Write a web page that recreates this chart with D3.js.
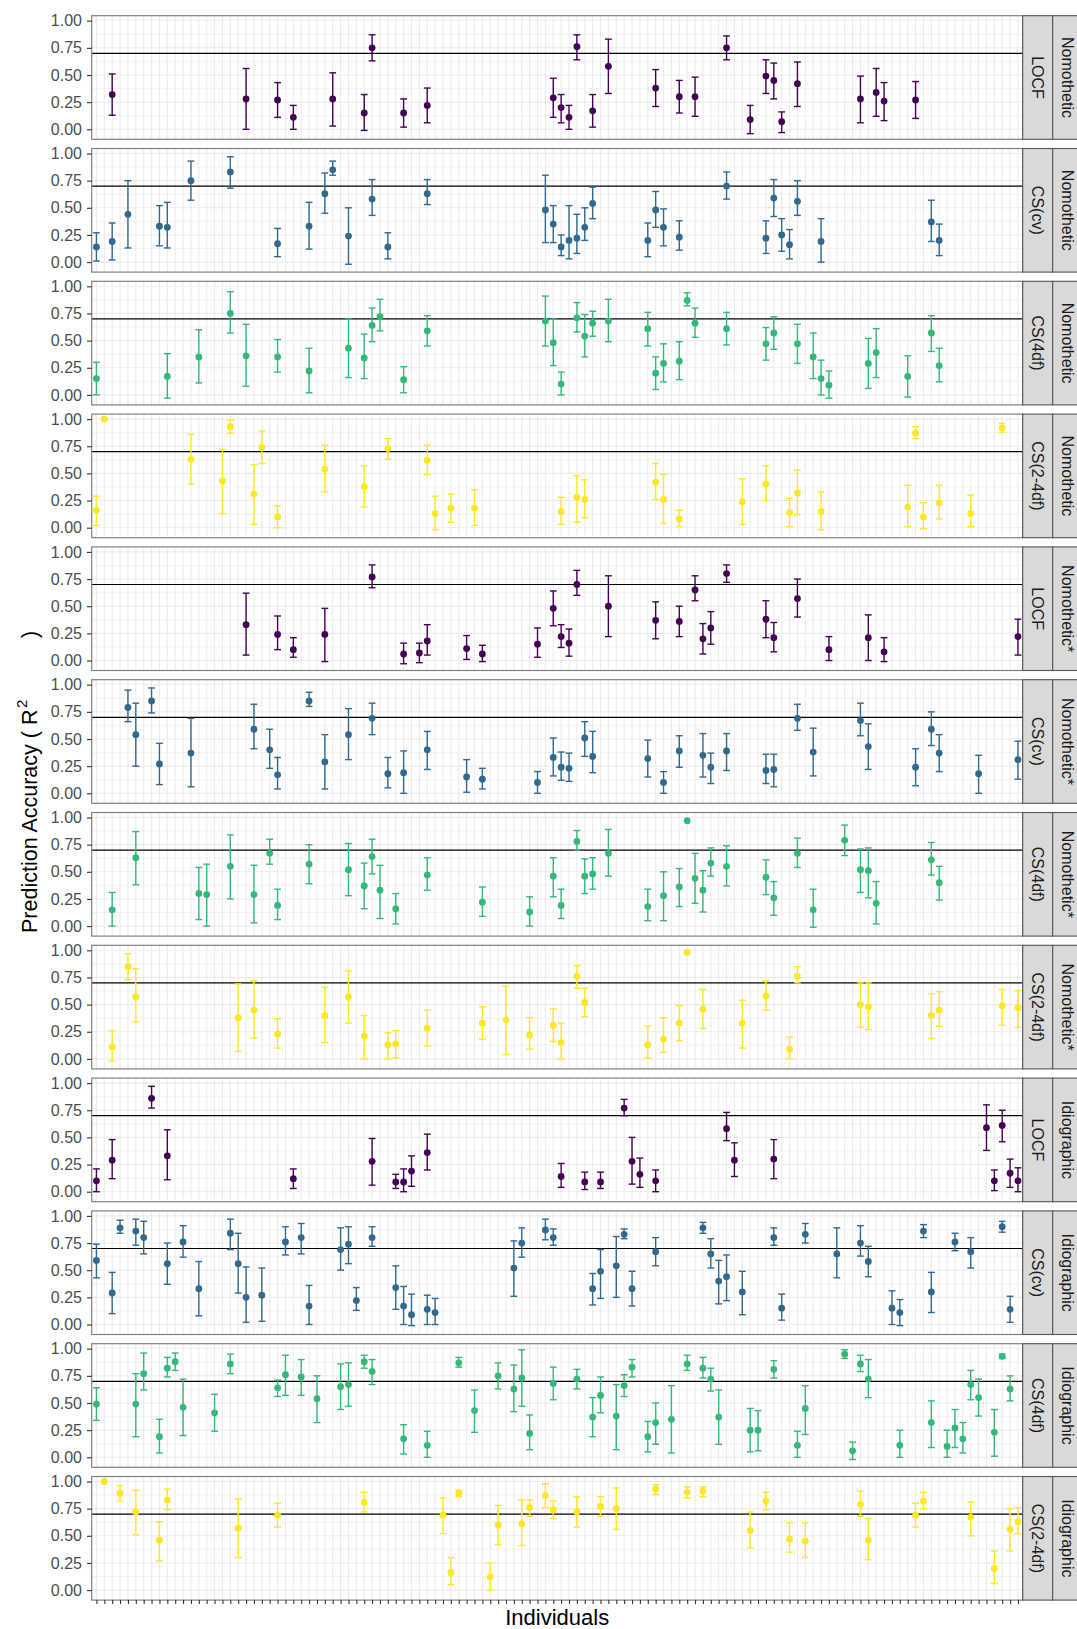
<!DOCTYPE html>
<html>
<head>
<meta charset="utf-8">
<script src="https://cdn.jsdelivr.net/npm/d3@7"></script>
<style>
  body { margin: 0; background: #fff; }
  svg { display: block; font-family: "Liberation Sans", Arial, sans-serif; }
</style>
</head>
<body>
<svg id="chart"></svg>
<script>
// x categories: individuals (axis shows ticks only)
const nIndividuals = 118
const individuals = d3.range(1, nIndividuals + 1)

const models = ['LOCF', 'CS(cv)', 'CS(4df)', 'CS(2-4df)']
const approaches = ['Nomothetic', 'Nomothetic*', 'Idiographic']
const modelColors = ['#440154', '#31688E', '#35B779', '#FDE725']
const yTicks = [0, 0.25, 0.5, 0.75, 1]
const threshold = 0.7

// [individual, estimate, lower, upper]
const nomoLOCF = [
  [3,.32,.13,.51],[20,.28,0,.56],[24,.27,.11,.43],[26,.11,.0,.22],[31,.28,.03,.52],
  [35,.15,-.01,.32],[36,.75,.63,.87],[40,.15,.02,.28],[43,.22,.06,.38],[59,.29,.11,.47],
  [60,.20,.06,.32],[61,.11,0,.22],[62,.76,.64,.87],[64,.17,.02,.32],[66,.58,.33,.83],
  [72,.38,.21,.55],[75,.30,.15,.45],[77,.30,.12,.48],[81,.75,.64,.86],[84,.09,-.04,.22],
  [86,.49,.33,.64],[87,.45,.28,.61],[88,.07,-.03,.16],[90,.42,.21,.62],[98,.28,.06,.49],
  [100,.34,.12,.56],[101,.26,.08,.43],[105,.27,.10,.44]
]
const nomoCV = [
  [1,.14,.01,.27],[3,.19,.02,.36],[5,.44,.13,.75],[9,.33,.15,.52],[10,.32,.13,.55],
  [13,.75,.57,.93],[18,.83,.68,.97],[24,.17,.05,.31],[28,.33,.12,.55],[30,.63,.45,.82],
  [31,.85,.80,.93],[33,.24,-.02,.50],[36,.58,.43,.76],[38,.14,.03,.27],[43,.63,.53,.76],
  [58,.48,.18,.80],[59,.35,.18,.52],[60,.14,.06,.25],[61,.20,.03,.52],[62,.22,.08,.44],
  [63,.32,.20,.50],[64,.54,.40,.69],[71,.20,.05,.36],[72,.48,.32,.65],[73,.32,.15,.49],
  [75,.23,.11,.38],[81,.70,.58,.83],[86,.22,.08,.38],[87,.59,.42,.76],[88,.25,.10,.40],
  [89,.16,.03,.30],[90,.56,.43,.75],[93,.19,0,.40],[107,.37,.19,.57],[108,.20,.06,.35]
]
const nomo4df = [
  [1,.15,0,.30],[10,.17,-.03,.38],[14,.35,.11,.60],[18,.75,.57,.95],[20,.36,.08,.65],
  [24,.35,.21,.51],[28,.22,.02,.43],[33,.43,.16,.70],[35,.34,.15,.56],[36,.64,.49,.80],
  [37,.72,.59,.88],[40,.14,.02,.26],[43,.59,.45,.73],[58,.68,.45,.91],[59,.48,.27,.70],
  [60,.10,0,.21],[62,.71,.58,.85],[63,.54,.35,.74],[64,.66,.54,.77],[66,.68,.49,.88],
  [71,.61,.45,.76],[72,.20,.05,.35],[73,.29,.12,.47],[75,.31,.14,.49],[76,.87,.82,.94],
  [77,.66,.53,.80],[81,.61,.46,.76],[86,.47,.32,.62],[87,.57,.42,.72],[90,.47,.29,.65],
  [92,.35,.15,.57],[93,.15,0,.32],[94,.09,-.03,.22],[99,.29,.06,.52],[100,.39,.16,.61],
  [104,.17,-.02,.36],[107,.57,.40,.73],[108,.27,.12,.43]
]
const nomo24df = [
  [1,.16,.02,.29],[2,1,1,1],[13,.63,.40,.86],[17,.43,.13,.72],[18,.93,.87,.99],
  [21,.31,.03,.58],[22,.74,.59,.89],[24,.10,0,.20],[30,.54,.33,.76],[35,.38,.19,.57],
  [38,.73,.63,.82],[43,.62,.49,.76],[44,.13,-.02,.29],[46,.18,.05,.31],[49,.18,.02,.35],
  [60,.15,.03,.28],[62,.28,.05,.48],[63,.26,.09,.44],[72,.42,.26,.59],[73,.26,.04,.49],
  [75,.08,.01,.16],[83,.24,.03,.45],[86,.40,.25,.57],[89,.14,.01,.27],[90,.32,.12,.53],
  [93,.15,-.02,.33],[104,.19,.01,.39],[105,.87,.82,.93],[106,.10,-.01,.23],[108,.23,.08,.39],
  [112,.13,.01,.30],[116,.92,.88,.96]
]
const nomoStarLOCF = [
  [20,.33,.05,.62],[24,.24,.10,.41],[26,.10,.03,.21],[30,.24,-.01,.48],[36,.77,.67,.88],
  [40,.06,-.03,.16],[42,.07,-.02,.16],[43,.18,.05,.33],[48,.11,.01,.23],[50,.06,-.01,.14],
  [57,.15,.03,.30],[59,.48,.32,.64],[60,.22,.12,.33],[61,.16,.04,.29],[62,.70,.60,.83],
  [66,.50,.22,.78],[72,.37,.20,.54],[75,.36,.22,.50],[77,.65,.55,.78],[78,.20,.06,.34],
  [79,.30,.15,.45],[81,.80,.72,.88],[86,.38,.21,.55],[87,.21,.08,.35],[90,.57,.40,.75],
  [94,.10,0,.22],[99,.21,0,.42],[101,.08,-.01,.21],[118,.22,.05,.38]
]
const nomoStarCV = [
  [5,.79,.66,.95],[6,.54,.25,.83],[8,.85,.74,.97],[9,.27,.08,.46],[13,.37,.06,.69],
  [21,.59,.41,.82],[23,.40,.23,.59],[24,.17,.04,.33],[28,.85,.80,.93],[30,.29,.04,.54],
  [33,.54,.31,.78],[36,.69,.54,.83],[38,.18,.05,.33],[40,.19,0,.39],[43,.40,.22,.57],
  [48,.15,.01,.31],[50,.13,.04,.23],[57,.10,0,.20],[59,.33,.16,.51],[60,.24,.12,.38],
  [61,.23,.11,.37],[63,.51,.34,.66],[64,.34,.19,.57],[71,.32,.15,.49],[73,.10,0,.20],
  [75,.39,.24,.53],[78,.35,.15,.55],[79,.24,.09,.37],[81,.39,.21,.55],[86,.21,.09,.36],
  [87,.22,.06,.36],[90,.69,.58,.82],[92,.38,.16,.60],[98,.67,.53,.83],[99,.43,.22,.64],
  [105,.24,.07,.41],[107,.59,.44,.75],[108,.37,.20,.54],[113,.18,0,.35],[118,.31,.13,.48]
]
const nomoStar4df = [
  [3,.15,0,.31],[6,.63,.38,.87],[14,.30,.06,.54],[15,.29,0,.57],[18,.55,.25,.84],
  [21,.29,.03,.56],[23,.67,.57,.80],[24,.19,.06,.34],[28,.57,.39,.75],[33,.52,.28,.76],
  [35,.37,.16,.58],[36,.64,.48,.80],[37,.33,.07,.56],[39,.16,.02,.30],[43,.47,.33,.63],
  [50,.22,.09,.36],[56,.13,0,.27],[59,.46,.27,.63],[60,.19,.07,.34],[62,.78,.70,.88],
  [63,.46,.30,.62],[64,.48,.34,.63],[66,.67,.46,.89],[71,.18,.05,.34],[73,.28,.05,.50],
  [75,.36,.18,.53],[76,.97,.97,.97],[77,.44,.21,.67],[78,.33,.13,.51],[79,.58,.46,.72],
  [81,.55,.37,.74],[86,.45,.29,.61],[87,.26,.10,.41],[90,.67,.54,.81],[92,.15,-.01,.34],
  [96,.79,.65,.93],[98,.52,.31,.71],[99,.51,.26,.72],[100,.21,.02,.41],[107,.61,.47,.77],
  [108,.40,.24,.55]
]
const nomoStar24df = [
  [3,.11,-.02,.26],[5,.85,.73,.97],[6,.57,.34,.83],[19,.38,.07,.69],[21,.45,.19,.72],
  [24,.23,.10,.37],[30,.40,.15,.66],[33,.57,.33,.81],[35,.21,0,.40],[38,.13,0,.24],
  [39,.14,.01,.26],[43,.28,.12,.45],[50,.33,.18,.48],[53,.36,.04,.67],[56,.22,.09,.38],
  [59,.31,.16,.46],[60,.15,0,.33],[62,.76,.65,.86],[63,.52,.39,.65],[71,.13,.01,.30],
  [73,.18,.06,.38],[75,.33,.17,.49],[76,.98,.98,.98],[78,.46,.28,.64],[83,.33,.10,.54],
  [86,.58,.45,.72],[89,.09,0,.20],[90,.76,.70,.85],[98,.50,.29,.70],[99,.48,.27,.70],
  [107,.40,.19,.60],[108,.45,.30,.62],[116,.49,.31,.64],[118,.47,.29,.63]
]
const idioLOCF = [
  [1,.10,0,.21],[3,.29,.12,.48],[8,.86,.77,.97],[10,.33,.11,.57],[26,.12,.03,.21],
  [36,.28,.06,.49],[39,.09,.03,.16],[40,.09,0,.21],[41,.19,.05,.33],[43,.36,.20,.53],
  [60,.14,.04,.26],[63,.09,.02,.18],[65,.09,.03,.18],[68,.77,.70,.85],[69,.28,.07,.50],
  [70,.16,.04,.31],[72,.10,0,.20],[81,.58,.47,.73],[82,.29,.14,.45],[87,.30,.12,.48],
  [114,.59,.38,.80],[115,.10,.01,.20],[116,.61,.46,.75],[117,.17,.04,.30],[118,.10,0,.22]
]
const idioCV = [
  [1,.59,.43,.74],[3,.29,.10,.48],[4,.89,.84,.96],[6,.86,.73,.97],[7,.80,.65,.95],
  [10,.56,.37,.75],[12,.76,.62,.91],[14,.33,.08,.58],[18,.84,.69,.97],[19,.56,.29,.84],
  [20,.25,.02,.53],[22,.27,.03,.52],[25,.76,.64,.90],[27,.80,.65,.93],[28,.17,0,.36],
  [32,.69,.50,.89],[33,.74,.56,.90],[34,.22,.13,.34],[36,.80,.72,.90],[39,.34,.14,.54],
  [40,.17,0,.35],[41,.09,-.01,.28],[43,.14,0,.27],[44,.11,0,.24],[54,.52,.26,.77],
  [55,.75,.62,.89],[58,.87,.78,.97],[59,.80,.73,.88],[64,.33,.18,.47],[65,.49,.24,.69],
  [67,.54,.25,.81],[68,.83,.79,.88],[69,.33,.17,.49],[72,.67,.54,.80],[78,.89,.84,.94],
  [79,.65,.52,.79],[80,.40,.19,.59],[81,.44,.22,.64],[83,.30,.09,.49],[87,.80,.73,.89],
  [88,.15,.04,.28],[91,.83,.75,.93],[95,.65,.43,.89],[98,.75,.63,.91],[99,.58,.44,.72],
  [102,.15,0,.31],[103,.11,-.01,.23],[106,.86,.80,.92],[107,.30,.11,.48],[110,.76,.68,.84],
  [112,.67,.52,.80],[116,.90,.85,.95],[117,.14,.02,.26]
]
const idio4df = [
  [1,.49,.34,.64],[6,.49,.19,.77],[7,.77,.62,.96],[9,.19,.04,.35],[10,.82,.74,.92],
  [11,.88,.80,.96],[12,.46,.20,.72],[16,.41,.24,.58],[18,.86,.77,.95],[24,.64,.56,.71],
  [25,.76,.57,.94],[27,.74,.57,.90],[29,.54,.32,.75],[32,.65,.44,.86],[33,.67,.47,.87],
  [35,.88,.82,.94],[36,.79,.67,.90],[40,.17,.03,.30],[43,.11,0,.24],[47,.87,.83,.92],
  [49,.43,.23,.62],[52,.75,.63,.87],[54,.63,.42,.85],[55,.73,.47,.99],[56,.22,.07,.39],
  [59,.68,.53,.83],[62,.72,.63,.81],[64,.37,.19,.55],[65,.57,.41,.74],[67,.38,.07,.67],
  [68,.66,.56,.76],[69,.83,.74,.90],[71,.19,.05,.33],[72,.32,.12,.50],[74,.35,.04,.66],
  [76,.86,.80,.94],[78,.82,.73,.92],[79,.72,.61,.82],[80,.37,.12,.62],[84,.25,.05,.45],
  [85,.25,.06,.43],[87,.81,.73,.89],[90,.11,0,.24],[91,.45,.21,.66],[96,.95,.91,.99],
  [97,.06,-.02,.14],[98,.86,.79,.94],[99,.72,.55,.90],[103,.11,0,.25],[107,.32,.09,.52],
  [109,.10,0,.25],[110,.27,.09,.44],[111,.17,.04,.32],[112,.67,.53,.80],[113,.55,.38,.72],
  [115,.23,.01,.44],[116,.93,.91,.95],[117,.63,.52,.75]
]
const idio24df = [
  [2,1,1,1],[4,.89,.82,.96],[6,.72,.51,.92],[9,.46,.27,.63],[10,.83,.74,.93],
  [19,.57,.30,.84],[24,.69,.58,.80],[35,.81,.72,.90],[45,.69,.52,.85],[46,.16,.05,.30],
  [47,.89,.86,.92],[51,.12,0,.25],[52,.60,.42,.78],[55,.61,.41,.83],[56,.76,.68,.83],
  [58,.87,.76,.98],[59,.74,.66,.82],[62,.72,.58,.86],[65,.77,.68,.86],[67,.75,.56,.94],
  [72,.93,.88,.97],[76,.90,.85,.95],[78,.91,.86,.95],[84,.55,.39,.72],[86,.82,.74,.90],
  [89,.47,.35,.62],[91,.45,.30,.62],[98,.79,.68,.91],[99,.46,.28,.66],[105,.69,.58,.80],
  [106,.82,.75,.90],[112,.67,.50,.81],[115,.20,.06,.36],[117,.56,.36,.75],[118,.63,.52,.76]
]

const panels = [
  {model: 0, approach: 0, data: nomoLOCF},
  {model: 1, approach: 0, data: nomoCV},
  {model: 2, approach: 0, data: nomo4df},
  {model: 3, approach: 0, data: nomo24df},
  {model: 0, approach: 1, data: nomoStarLOCF},
  {model: 1, approach: 1, data: nomoStarCV},
  {model: 2, approach: 1, data: nomoStar4df},
  {model: 3, approach: 1, data: nomoStar24df},
  {model: 0, approach: 2, data: idioLOCF},
  {model: 1, approach: 2, data: idioCV},
  {model: 2, approach: 2, data: idio4df},
  {model: 3, approach: 2, data: idio24df}
]

const width = 1077, height = 1629
const plotLeft = 91.7, plotW = 931
const firstTop = 15.7, panelH = 123.6, panelStep = 132.8
const stripW = 30

const svg = d3.select('#chart').attr('width', width).attr('height', height)
svg.append('rect').attr('width', width).attr('height', height).attr('fill', '#fff')

const x = d3.scalePoint()
  .domain(individuals)
  .range([plotLeft, plotLeft + plotW])
  .padding(0.6)

const y = d3.scaleLinear().domain([-0.092, 1.046]).range([panelH, 0])
const capW = 3.4

panels.forEach((p, i) => {
  const top = firstTop + i * panelStep
  const color = modelColors[p.model]
  const g = svg.append('g').attr('transform', `translate(0,${top})`)

  // panel background + grid
  g.append('rect').attr('x', plotLeft).attr('width', plotW).attr('height', panelH).attr('fill', '#fff')
  g.selectAll('.minor').data([0.125, 0.375, 0.625, 0.875]).enter()
    .append('line')
    .attr('x1', plotLeft).attr('x2', plotLeft + plotW)
    .attr('y1', d => y(d)).attr('y2', d => y(d))
    .attr('stroke', '#EBEBEB').attr('stroke-width', 0.6)
  g.selectAll('.hmajor').data(yTicks).enter()
    .append('line')
    .attr('x1', plotLeft).attr('x2', plotLeft + plotW)
    .attr('y1', d => y(d)).attr('y2', d => y(d))
    .attr('stroke', '#EBEBEB').attr('stroke-width', 1.1)
  g.selectAll('.vmajor').data(individuals).enter()
    .append('line')
    .attr('x1', d => x(d)).attr('x2', d => x(d))
    .attr('y1', 0).attr('y2', panelH)
    .attr('stroke', '#EBEBEB').attr('stroke-width', 1.1)

  // threshold
  g.append('line')
    .attr('x1', plotLeft).attr('x2', plotLeft + plotW)
    .attr('y1', y(threshold)).attr('y2', y(threshold))
    .attr('stroke', '#000').attr('stroke-width', 1.2)

  // error bars
  const bars = g.selectAll('.bar').data(p.data.filter(d => d[3] > d[2])).enter().append('g')
  bars.append('line')
    .attr('x1', d => x(d[0])).attr('x2', d => x(d[0]))
    .attr('y1', d => y(d[2])).attr('y2', d => y(d[3]))
    .attr('stroke', color).attr('stroke-width', 1.4)
  bars.append('line')
    .attr('x1', d => x(d[0]) - capW).attr('x2', d => x(d[0]) + capW)
    .attr('y1', d => y(d[2])).attr('y2', d => y(d[2]))
    .attr('stroke', color).attr('stroke-width', 1.4)
  bars.append('line')
    .attr('x1', d => x(d[0]) - capW).attr('x2', d => x(d[0]) + capW)
    .attr('y1', d => y(d[3])).attr('y2', d => y(d[3]))
    .attr('stroke', color).attr('stroke-width', 1.4)

  // points
  g.selectAll('.pt').data(p.data).enter()
    .append('circle')
    .attr('cx', d => x(d[0])).attr('cy', d => y(d[1]))
    .attr('r', 3.4).attr('fill', color)

  // border
  g.append('rect').attr('x', plotLeft).attr('width', plotW).attr('height', panelH)
    .attr('fill', 'none').attr('stroke', '#808080').attr('stroke-width', 1.2)

  // y axis
  const ya = g.append('g').attr('transform', `translate(${plotLeft},0)`)
    .call(d3.axisLeft(y).tickValues(yTicks).tickFormat(d3.format('.2f')).tickSize(4.7).tickPadding(5))
  ya.select('.domain').remove()
  ya.selectAll('line').attr('stroke', '#333').attr('stroke-width', 1.1)
  ya.selectAll('text').attr('fill', '#4D4D4D').attr('font-size', 16)
    .attr('font-family', '"Liberation Sans", Arial, sans-serif')

  // strips: model then approach
  const labels = [models[p.model], approaches[p.approach]]
  labels.forEach((lab, j) => {
    const sx = plotLeft + plotW + j * stripW
    g.append('rect').attr('x', sx).attr('width', stripW).attr('height', panelH)
      .attr('fill', '#D9D9D9').attr('stroke', '#555').attr('stroke-width', 1.1)
    g.append('text')
      .attr('transform', `translate(${sx + stripW / 2},${panelH / 2}) rotate(90)`)
      .attr('text-anchor', 'middle').attr('dy', '0.35em')
      .attr('font-size', 16).attr('fill', '#1A1A1A')
      .text(lab)
  })
})

// bottom axis: ticks only
const lastBottom = firstTop + (panels.length - 1) * panelStep + panelH
const xa = svg.append('g').attr('transform', `translate(0,${lastBottom})`)
  .call(d3.axisBottom(x).tickFormat('').tickSize(4).tickSizeOuter(0))
xa.select('.domain').remove()
xa.selectAll('line').attr('stroke', '#333').attr('stroke-width', 1.1)

// axis titles
svg.append('text')
  .attr('x', plotLeft + plotW / 2).attr('y', 1625)
  .attr('text-anchor', 'middle').attr('font-size', 22).attr('fill', '#000')
  .text('Individuals')

// y title: plotmath-style spacing around R^2
const titleSize = 21.5
svg.append('text')
  .attr('transform', 'translate(37,933) rotate(-90)')
  .attr('font-size', titleSize).attr('fill', '#000')
  .text('Prediction Accuracy ( R')
svg.append('text')
  .attr('transform', 'translate(27,708) rotate(-90)')
  .attr('font-size', 15).attr('fill', '#000')
  .text('2')
svg.append('text')
  .attr('transform', 'translate(37,638) rotate(-90)')
  .attr('font-size', titleSize).attr('fill', '#000')
  .text(')')
</script>
</body>
</html>
